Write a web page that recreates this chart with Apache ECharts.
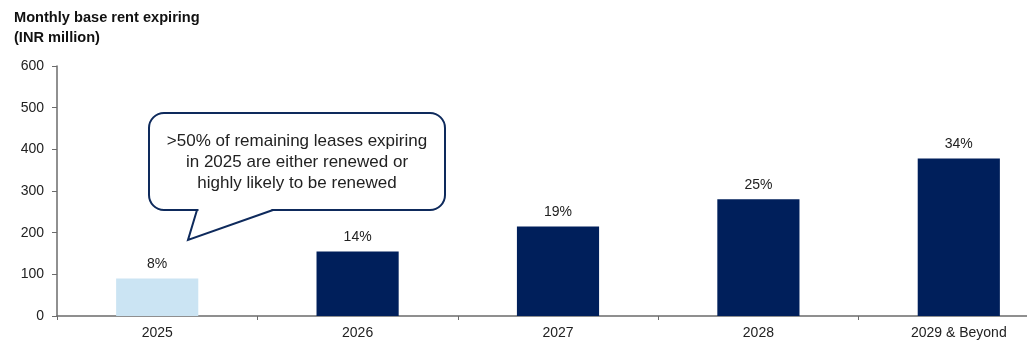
<!DOCTYPE html>
<html><head><meta charset="utf-8">
<script src="https://cdn.jsdelivr.net/npm/echarts@6/dist/echarts.min.js"></script>
<style>html,body{margin:0;padding:0;background:#fff;overflow:hidden;width:1027px;height:344px}#c{width:1060px;height:344px}</style>
</head><body><div id="c"></div>
<script>
const categories = ['2025', '2026', '2027', '2028', '2029 & Beyond'];
const rentValues = [90, 155, 215, 280, 378];
const shareLabels = ['8%', '14%', '19%', '25%', '34%'];
const barColors = ['#CBE4F3', '#001F5B', '#001F5B', '#001F5B', '#001F5B'];
const yTicks = [0, 100, 200, 300, 400, 500, 600];
const calloutLines = ['>50% of remaining leases expiring', 'in 2025 are either renewed or', 'highly likely to be renewed'];

const font = '"Liberation Sans", Arial, sans-serif';
const navy = '#0E2A5C';
const chart = echarts.init(document.getElementById('c'), null, {renderer: 'canvas'});
chart.setOption({
  animation: false,
  grid: {left: 57, top: 66, right: 1, height: 250, containLabel: false},
  title: {
    text: 'Monthly base rent expiring\n(INR million)',
    left: 9, top: 3,
    textStyle: {fontFamily: font, fontSize: 14.6, fontWeight: 'bold', color: '#111', lineHeight: 20}
  },
  xAxis: {
    type: 'category', data: categories,
    axisLine: {lineStyle: {color: '#6b6b6b', width: 1.5}},
    axisTick: {show: true, length: 4, lineStyle: {color: '#6b6b6b'}},
    axisLabel: {fontFamily: font, fontSize: 14, color: '#222', margin: 10}
  },
  yAxis: {
    type: 'value', min: yTicks[0], max: yTicks[yTicks.length - 1], interval: 100,
    axisLine: {show: true, lineStyle: {color: '#6b6b6b', width: 1.5}},
    axisTick: {show: true, length: 5, lineStyle: {color: '#6b6b6b'}},
    splitLine: {show: false},
    axisLabel: {fontFamily: font, fontSize: 14, color: '#222', margin: 13}
  },
  series: [{
    type: 'bar', barWidth: '41%',
    data: rentValues.map((v, i) => ({value: v, itemStyle: {color: barColors[i]}})),
    label: {
      show: true, position: 'top', distance: 7,
      formatter: p => shareLabels[p.dataIndex],
      fontFamily: font, fontSize: 14, color: '#222'
    }
  }],
  graphic: [
    {
      type: 'rect', z: 10,
      shape: {x: 149, y: 113, width: 296, height: 97, r: 15},
      style: {fill: '#fff', stroke: navy, lineWidth: 2}
    },
    {
      type: 'polygon', z: 11,
      shape: {points: [[198.5, 207], [271.5, 207], [271.5, 212], [188, 239], [198.5, 212]]},
      style: {fill: '#fff'}
    },
    {
      type: 'polyline', z: 12,
      shape: {points: [[197, 210], [188, 240], [273, 210]]},
      style: {fill: null, stroke: navy, lineWidth: 2, lineJoin: 'miter'}
    },
    {
      type: 'text', z: 13, x: 297, y: 131,
      style: {
        text: calloutLines.join('\n'), textAlign: 'center',
        font: '17px ' + font, fill: '#222', lineHeight: 21
      }
    }
  ]
});
</script></body></html>
